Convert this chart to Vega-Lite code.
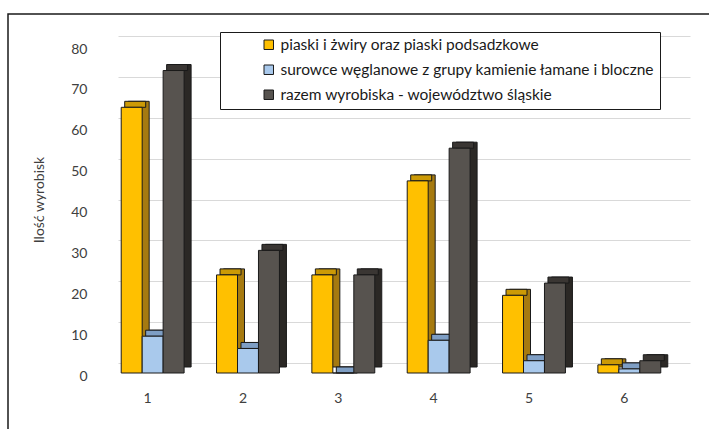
{
  "$schema": "https://vega.github.io/schema/vega-lite/v6.json",
  "width": 703,
  "height": 418,
  "autosize": {"type": "none"},
  "padding": {"left": 8, "top": 14, "right": 0, "bottom": 0},
  "background": "white",
  "config": {"view": {"stroke": "#1a1a1a", "strokeWidth": 1.5}, "font": "Lato"},
  "data": {
    "values": [
      {"cat": "1", "s": "piaski i żwiry oraz piaski podsadzkowe", "v": 65},
      {"cat": "1", "s": "surowce węglanowe z grupy kamienie łamane i bloczne", "v": 9},
      {"cat": "1", "s": "razem wyrobiska - województwo śląskie", "v": 74},
      {"cat": "2", "s": "piaski i żwiry oraz piaski podsadzkowe", "v": 24},
      {"cat": "2", "s": "surowce węglanowe z grupy kamienie łamane i bloczne", "v": 6},
      {"cat": "2", "s": "razem wyrobiska - województwo śląskie", "v": 30},
      {"cat": "3", "s": "piaski i żwiry oraz piaski podsadzkowe", "v": 24},
      {"cat": "3", "s": "surowce węglanowe z grupy kamienie łamane i bloczne", "v": 0},
      {"cat": "3", "s": "razem wyrobiska - województwo śląskie", "v": 24},
      {"cat": "4", "s": "piaski i żwiry oraz piaski podsadzkowe", "v": 47},
      {"cat": "4", "s": "surowce węglanowe z grupy kamienie łamane i bloczne", "v": 8},
      {"cat": "4", "s": "razem wyrobiska - województwo śląskie", "v": 55},
      {"cat": "5", "s": "piaski i żwiry oraz piaski podsadzkowe", "v": 19},
      {"cat": "5", "s": "surowce węglanowe z grupy kamienie łamane i bloczne", "v": 3},
      {"cat": "5", "s": "razem wyrobiska - województwo śląskie", "v": 22},
      {"cat": "6", "s": "piaski i żwiry oraz piaski podsadzkowe", "v": 2},
      {"cat": "6", "s": "surowce węglanowe z grupy kamienie łamane i bloczne", "v": 1},
      {"cat": "6", "s": "razem wyrobiska - województwo śląskie", "v": 3}
    ]
  },
  "encoding": {
    "x": {
      "field": "cat", "type": "nominal",
      "scale": {"range": [110, 682], "paddingInner": 0.34, "paddingOuter": 0.17},
      "axis": {"domain": false, "ticks": false, "grid": false, "offset": -59, "labelPadding": 18, "labelOffset": -18, "labelAngle": 0, "title": null, "labelFontSize": 14, "labelColor": "#404040", "labelFont": "Lato"}
    },
    "y": {
      "field": "v", "type": "quantitative",
      "scale": {"domain": [0, 80], "range": [349, 22], "nice": false},
      "axis": {"values": [0, 10, 20, 30, 40, 50, 60, 70, 80], "grid": true, "gridColor": "#d9d9d9", "gridWidth": 1, "domain": false, "ticks": false, "labelPadding": 0, "offset": -79, "labelOffset": 13, "labelFontSize": 14, "labelColor": "#404040", "labelFont": "Lato", "title": "Ilość wyrobisk", "titleFontSize": 14, "titleFontWeight": "normal", "titleColor": "#404040", "titleFont": "Lato", "titlePadding": 24}
    }
  },
  "layer": [
    {
      "mark": {"type": "bar", "yOffset": 4, "y2Offset": 4, "stroke": "#1a1a1a", "strokeWidth": 1},
      "encoding": {
        "xOffset": {"field": "s", "type": "nominal", "scale": {"type": "band", "domain": ["piaski i żwiry oraz piaski podsadzkowe", "surowce węglanowe z grupy kamienie łamane i bloczne", "razem wyrobiska - województwo śląskie"], "range": [-6, 56.9]}},
        "color": {"field": "s", "type": "nominal", "scale": {"domain": ["piaski i żwiry oraz piaski podsadzkowe", "surowce węglanowe z grupy kamienie łamane i bloczne", "razem wyrobiska - województwo śląskie"], "range": ["#A67A10", "#6F8BB0", "#2B2825"]}, "legend": null}
      }
    },
    {
      "mark": {"type": "tick", "yOffset": 7, "size": 21, "thickness": 6, "opacity": 1, "stroke": "#1a1a1a", "strokeWidth": 1},
      "encoding": {
        "xOffset": {"field": "s", "type": "nominal", "scale": {"type": "band", "domain": ["piaski i żwiry oraz piaski podsadzkowe", "surowce węglanowe z grupy kamienie łamane i bloczne", "razem wyrobiska - województwo śląskie"], "range": [-9.5, 53.4]}},
        "color": {"field": "s", "type": "nominal", "scale": {"domain": ["piaski i żwiry oraz piaski podsadzkowe", "surowce węglanowe z grupy kamienie łamane i bloczne", "razem wyrobiska - województwo śląskie"], "range": ["#CC9A06", "#7E9EC4", "#3A3633"]}, "legend": null}
      }
    },
    {
      "mark": {"type": "bar", "yOffset": 10, "y2Offset": 10, "stroke": "#1a1a1a", "strokeWidth": 1},
      "encoding": {
        "xOffset": {"field": "s", "type": "nominal", "scale": {"type": "band", "domain": ["piaski i żwiry oraz piaski podsadzkowe", "surowce węglanowe z grupy kamienie łamane i bloczne", "razem wyrobiska - województwo śląskie"], "range": [-13, 49.9]}},
        "color": {
          "field": "s", "type": "nominal",
          "scale": {"domain": ["piaski i żwiry oraz piaski podsadzkowe", "surowce węglanowe z grupy kamienie łamane i bloczne", "razem wyrobiska - województwo śląskie"], "range": ["#FFC000", "#A9C9EC", "#57534F"]},
          "legend": {"orient": "none", "legendX": 212, "legendY": 18, "title": null, "strokeColor": "#1a1a1a", "fillColor": "white", "padding": 5, "symbolType": "square", "symbolSize": 90, "symbolStrokeColor": "#1a1a1a", "symbolStrokeWidth": 1, "symbolOffset": 36, "labelFontSize": 15.5, "labelFont": "Lato", "labelColor": "#1a1a1a", "labelLimit": 600, "rowPadding": 8}
        }
      }
    }
  ],
  "resolve": {"scale": {"color": "independent", "xOffset": "independent"}}
}
